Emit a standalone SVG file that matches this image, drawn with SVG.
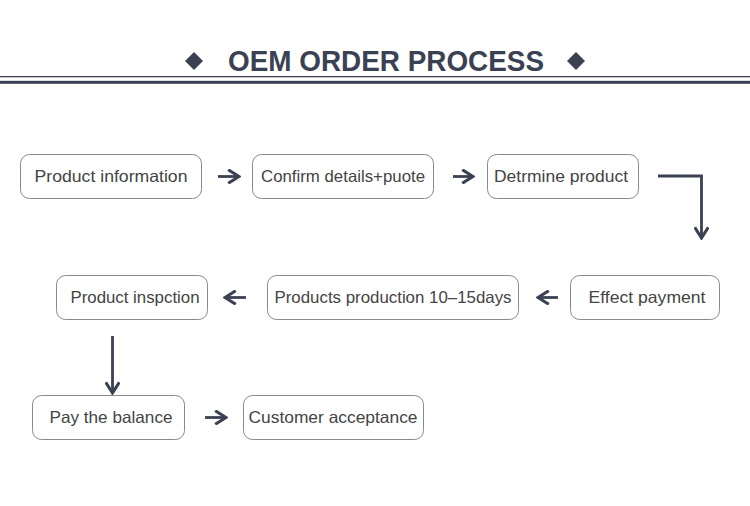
<svg xmlns="http://www.w3.org/2000/svg" width="750" height="506" viewBox="0 0 750 506">
<style>
.box{fill:#fff;stroke:#8a8a8a;stroke-width:1}
.lbl{font-family:"Liberation Sans",Arial,sans-serif;font-size:16.5px;fill:#444;text-anchor:middle}
.con{stroke:#3a4152;stroke-width:2.8;fill:none}
.title{font-family:"Liberation Sans",Arial,sans-serif;font-weight:bold;font-size:29px;fill:#3a4152;text-anchor:middle}
</style>
<defs>
<marker id="ah" viewBox="0 0 10 10" refX="9" refY="5" markerWidth="5.5" markerHeight="5.5" orient="auto" markerUnits="strokeWidth">
<path d="M2,0.6 L9,5 L2,9.4" fill="none" stroke="#3a4152" stroke-width="2"/>
</marker>
</defs>
<rect width="750" height="506" fill="#fff"/>
<g id="header">
<polygon points="194,52 203,61 194,70 185,61" fill="#3a4152"/>
<polygon points="576,52 585,61 576,70 567,61" fill="#3a4152"/>
<text class="title" x="386" y="71" textLength="316" lengthAdjust="spacingAndGlyphs">OEM ORDER PROCESS</text>
<rect x="0" y="76" width="750" height="1.3" fill="#3a4152"/>
<rect x="0" y="80.8" width="750" height="3" fill="#3a4152"/>
</g>
<g id="n1"><rect class="box" x="20.5" y="154.5" width="181" height="44" rx="9"/><text class="lbl" x="111" y="182" textLength="153" lengthAdjust="spacingAndGlyphs">Product information</text></g>
<g id="n2"><rect class="box" x="252.5" y="154.5" width="181" height="44" rx="9"/><text class="lbl" x="343" y="182" textLength="164" lengthAdjust="spacingAndGlyphs">Confirm details+puote</text></g>
<g id="n3"><rect class="box" x="487.5" y="154.5" width="151" height="44" rx="9"/><text class="lbl" x="561" y="182" textLength="134" lengthAdjust="spacingAndGlyphs">Detrmine product</text></g>
<g id="n4"><rect class="box" x="570.5" y="275.5" width="149" height="44" rx="9"/><text class="lbl" x="647" y="303" textLength="117" lengthAdjust="spacingAndGlyphs">Effect payment</text></g>
<g id="n5"><rect class="box" x="267.5" y="275.5" width="251" height="44" rx="9"/><text class="lbl" x="393" y="303" textLength="237" lengthAdjust="spacingAndGlyphs">Products production 10–15days</text></g>
<g id="n6"><rect class="box" x="56.5" y="275.5" width="151" height="44" rx="9"/><text class="lbl" x="135" y="303" textLength="129" lengthAdjust="spacingAndGlyphs">Product inspction</text></g>
<g id="n7"><rect class="box" x="32.5" y="395.5" width="152" height="44" rx="9"/><text class="lbl" x="111" y="423" textLength="123" lengthAdjust="spacingAndGlyphs">Pay the balance</text></g>
<g id="n8"><rect class="box" x="243.5" y="395.5" width="180" height="44" rx="9"/><text class="lbl" x="333" y="423" textLength="169" lengthAdjust="spacingAndGlyphs">Customer acceptance</text></g>
<g id="connectors">
<line class="con" x1="218" y1="176.5" x2="239" y2="176.5" marker-end="url(#ah)"/>
<line class="con" x1="453" y1="176.5" x2="473" y2="176.5" marker-end="url(#ah)"/>
<polyline class="con" points="658,176 701.5,176 701.5,238" marker-end="url(#ah)"/>
<line class="con" x1="558" y1="297.5" x2="538" y2="297.5" marker-end="url(#ah)"/>
<line class="con" x1="246" y1="297.5" x2="225" y2="297.5" marker-end="url(#ah)"/>
<line class="con" x1="112.5" y1="336" x2="112.5" y2="393" marker-end="url(#ah)"/>
<line class="con" x1="205" y1="417.5" x2="226" y2="417.5" marker-end="url(#ah)"/>
</g>
</svg>
